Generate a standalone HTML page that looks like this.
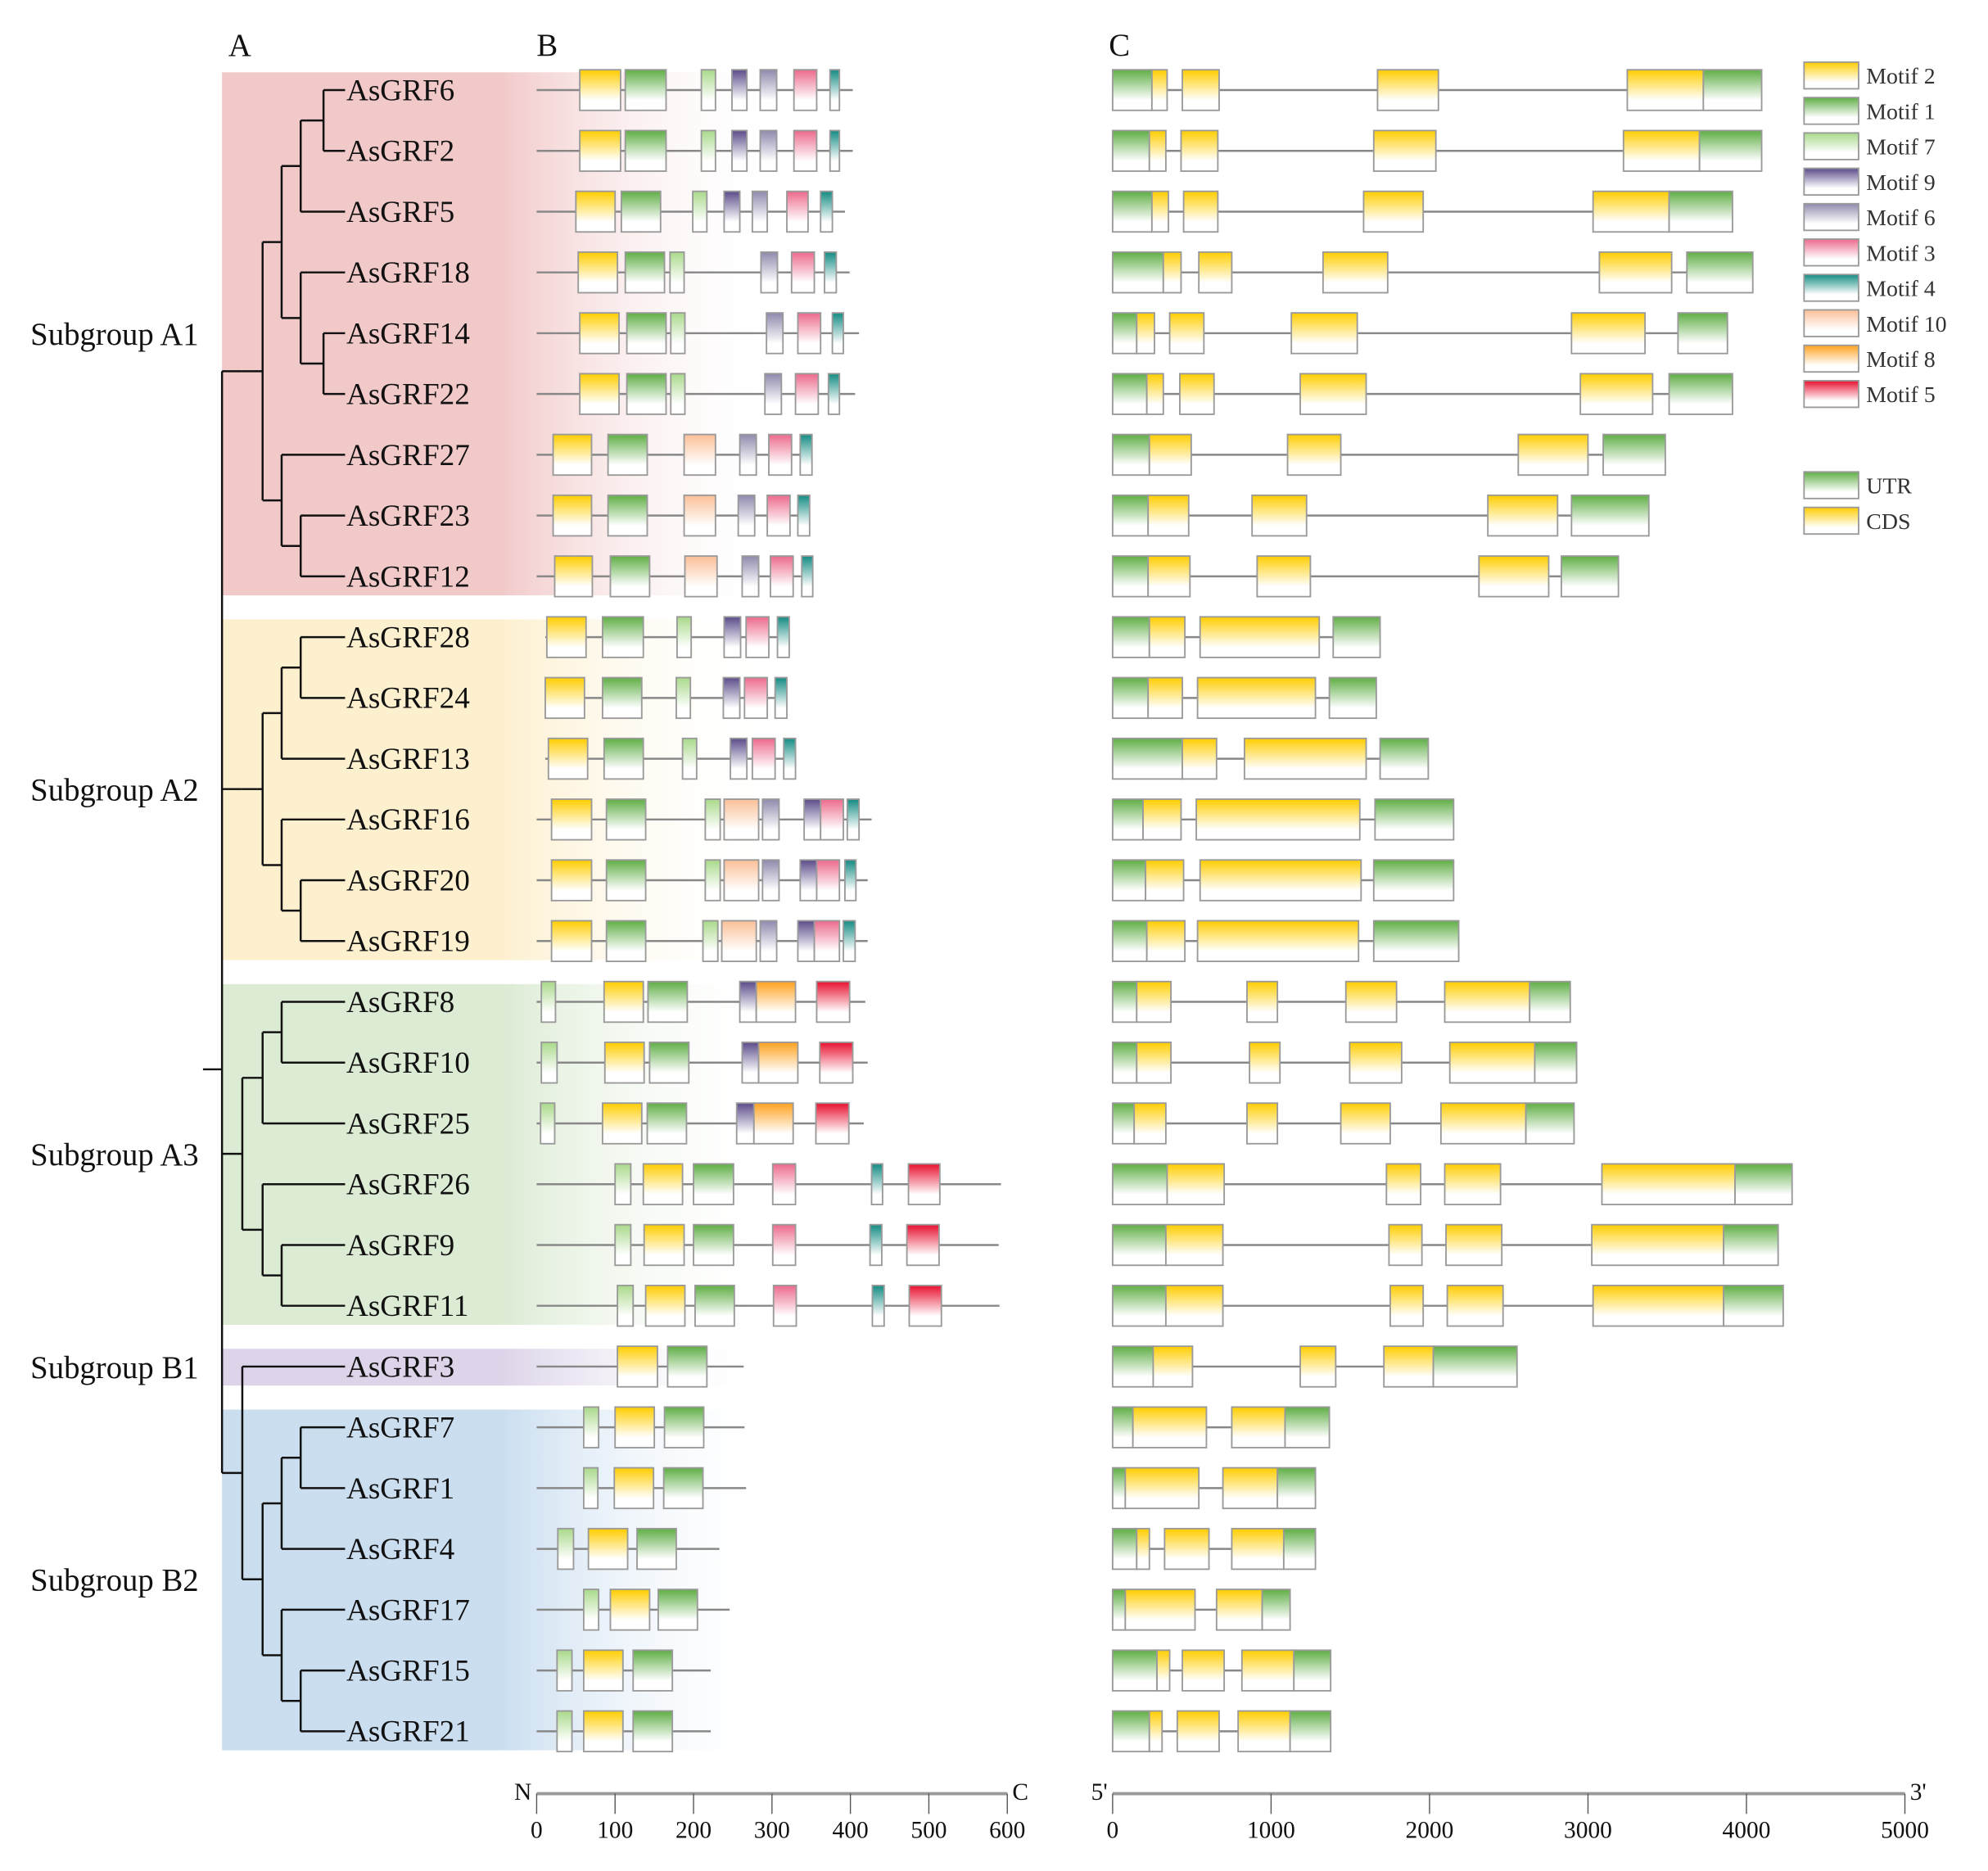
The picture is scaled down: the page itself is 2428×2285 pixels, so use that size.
<!DOCTYPE html>
<html><head><meta charset="utf-8"><style>
html,body{margin:0;padding:0;background:#fff;}
svg{display:block;font-family:"Liberation Serif",serif;}
</style></head><body>
<svg id="fig" width="2428" height="2285" viewBox="0 0 1567 1475" preserveAspectRatio="none" xmlns="http://www.w3.org/2000/svg">
<defs>
<linearGradient id="bgA1" x1="0" x2="1" y1="0" y2="0"><stop offset="0" stop-color="#f2c9c9"/><stop offset="0.5" stop-color="#f2c9c9"/><stop offset="1" stop-color="#fff" stop-opacity="0"/></linearGradient>
<linearGradient id="bgA2" x1="0" x2="1" y1="0" y2="0"><stop offset="0" stop-color="#fdf0cf"/><stop offset="0.5" stop-color="#fdf0cf"/><stop offset="1" stop-color="#fff" stop-opacity="0"/></linearGradient>
<linearGradient id="bgA3" x1="0" x2="1" y1="0" y2="0"><stop offset="0" stop-color="#dcebd4"/><stop offset="0.5" stop-color="#dcebd4"/><stop offset="1" stop-color="#fff" stop-opacity="0"/></linearGradient>
<linearGradient id="bgB1" x1="0" x2="1" y1="0" y2="0"><stop offset="0" stop-color="#ddd4e9"/><stop offset="0.5" stop-color="#ddd4e9"/><stop offset="1" stop-color="#fff" stop-opacity="0"/></linearGradient>
<linearGradient id="bgB2" x1="0" x2="1" y1="0" y2="0"><stop offset="0" stop-color="#cadef0"/><stop offset="0.5" stop-color="#cadef0"/><stop offset="1" stop-color="#fff" stop-opacity="0"/></linearGradient>
</defs>
<g id="bg"></g><g id="tree"></g><g id="motifs"></g><g id="genes"></g><g id="legend"></g><g id="axes"></g>
</svg>
<script>
const NS="http://www.w3.org/2000/svg";
// ---- data ----
const genes=["AsGRF6","AsGRF2","AsGRF5","AsGRF18","AsGRF14","AsGRF22","AsGRF27","AsGRF23","AsGRF12","AsGRF28","AsGRF24","AsGRF13","AsGRF16","AsGRF20","AsGRF19","AsGRF8","AsGRF10","AsGRF25","AsGRF26","AsGRF9","AsGRF11","AsGRF3","AsGRF7","AsGRF1","AsGRF4","AsGRF17","AsGRF15","AsGRF21"];
const proteinStart=[0,0,0,0,0,0,0,0,0,11,11,11,0,0,0,0,0,0,0,0,0,0,0,0,0,0,0,0];
const proteinLength=[403,403,393,399,411,406,351,348,352,322,319,331,427,422,422,419,422,417,592,589,590,264,265,267,233,246,222,222];
// motif hits per protein: [motifNumber, start, end]
const motifHits=[
[[2,55,107],[1,113,165],[7,210,228],[9,249,268],[6,285,306],[3,328,357],[4,374,386]],
[[2,55,107],[1,113,165],[7,210,228],[9,249,268],[6,285,306],[3,328,357],[4,374,386]],
[[2,50,100],[1,108,158],[7,199,217],[9,239,259],[6,275,294],[3,319,346],[4,362,377]],
[[2,53,103],[1,113,163],[7,170,188],[6,286,307],[3,325,354],[4,367,382]],
[[2,55,105],[1,115,165],[7,171,189],[6,293,314],[3,333,362],[4,377,391]],
[[2,55,105],[1,115,165],[7,171,189],[6,291,312],[3,330,359],[4,372,386]],
[[2,21,70],[1,91,141],[10,188,228],[6,259,280],[3,296,325],[4,336,351]],
[[2,21,70],[1,91,141],[10,188,228],[6,257,278],[3,294,323],[4,333,348]],
[[2,23,71],[1,94,144],[10,189,230],[6,262,283],[3,298,327],[4,338,352]],
[[2,13,63],[1,84,136],[7,179,197],[9,239,260],[3,267,296],[4,307,322]],
[[2,11,61],[1,84,134],[7,178,196],[9,238,259],[3,265,294],[4,304,319]],
[[2,15,65],[1,86,136],[7,186,204],[9,247,268],[3,275,304],[4,315,330]],
[[2,19,70],[1,89,139],[7,215,234],[10,239,283],[6,288,309],[9,341,362],[3,362,391],[4,396,411]],
[[2,19,70],[1,89,139],[7,215,234],[10,239,283],[6,288,309],[9,336,357],[3,357,386],[4,393,407]],
[[2,19,70],[1,89,139],[7,212,231],[10,236,280],[6,285,306],[9,333,354],[3,354,386],[4,391,406]],
[[7,6,24],[2,86,136],[1,142,192],[9,259,280],[8,280,330],[5,357,399]],
[[7,6,26],[2,87,137],[1,144,194],[9,262,283],[8,283,333],[5,361,403]],
[[7,5,23],[2,84,134],[1,141,191],[9,255,277],[8,277,327],[5,356,398]],
[[7,100,120],[2,136,186],[1,200,251],[3,301,330],[4,427,441],[5,474,514]],
[[7,100,120],[2,137,188],[1,200,251],[3,301,330],[4,425,440],[5,472,513]],
[[7,103,123],[2,139,189],[1,202,252],[3,302,331],[4,428,443],[5,475,516]],
[[2,103,154],[1,167,217]],
[[7,60,79],[2,100,150],[1,163,213]],
[[7,60,78],[2,99,149],[1,162,212]],
[[7,27,47],[2,66,116],[1,128,178]],
[[7,60,79],[2,94,144],[1,155,205]],
[[7,26,45],[2,60,110],[1,123,173]],
[[7,26,45],[2,60,110],[1,123,173]]
];
// gene structure segments: [type, start bp, end bp]  U=UTR, C=CDS
const geneSegs=[
[["U",0,248],["C",248,344],["C",440,672],["C",1672,2056],["C",3248,3728],["U",3728,4096]],
[["U",0,232],["C",232,336],["C",432,664],["C",1648,2040],["C",3224,3704],["U",3704,4096]],
[["U",0,248],["C",248,352],["C",448,664],["C",1584,1960],["C",3032,3512],["U",3512,3912]],
[["U",0,320],["C",320,432],["C",544,752],["C",1328,1736],["C",3072,3528],["U",3624,4040]],
[["U",0,152],["C",152,264],["C",360,576],["C",1128,1544],["C",2896,3360],["U",3568,3880]],
[["U",0,216],["C",216,320],["C",424,640],["C",1184,1600],["C",2952,3408],["U",3512,3912]],
[["U",0,232],["C",232,496],["C",1104,1440],["C",2560,3000],["U",3096,3488]],
[["U",0,224],["C",224,480],["C",880,1224],["C",2368,2808],["U",2896,3384]],
[["U",0,224],["C",224,488],["C",912,1248],["C",2312,2752],["U",2832,3192]],
[["U",0,232],["C",232,456],["C",552,1304],["U",1392,1688]],
[["U",0,224],["C",224,440],["C",536,1280],["U",1368,1664]],
[["U",0,440],["C",440,656],["C",832,1600],["U",1688,1992]],
[["U",0,192],["C",192,432],["C",528,1560],["U",1656,2152]],
[["U",0,208],["C",208,448],["C",552,1568],["U",1648,2152]],
[["U",0,216],["C",216,456],["C",536,1552],["U",1648,2184]],
[["U",0,152],["C",152,368],["C",848,1040],["C",1472,1792],["C",2096,2632],["U",2632,2888]],
[["U",0,152],["C",152,368],["C",864,1056],["C",1496,1824],["C",2128,2664],["U",2664,2928]],
[["U",0,136],["C",136,336],["C",848,1040],["C",1440,1752],["C",2072,2608],["U",2608,2912]],
[["U",0,344],["C",344,704],["C",1728,1944],["C",2096,2448],["C",3088,3928],["U",3928,4288]],
[["U",0,336],["C",336,696],["C",1744,1952],["C",2104,2456],["C",3024,3856],["U",3856,4200]],
[["U",0,336],["C",336,696],["C",1752,1960],["C",2112,2464],["C",3032,3856],["U",3856,4232]],
[["U",0,256],["C",256,504],["C",1184,1408],["C",1712,2024],["U",2024,2552]],
[["U",0,128],["C",128,592],["C",752,1088],["U",1088,1368]],
[["U",0,80],["C",80,544],["C",696,1040],["U",1040,1280]],
[["U",0,152],["C",152,232],["C",328,608],["C",752,1080],["U",1080,1280]],
[["U",0,80],["C",80,520],["C",656,944],["U",944,1120]],
[["U",0,280],["C",280,360],["C",440,704],["C",816,1144],["U",1144,1376]],
[["U",0,232],["C",232,312],["C",408,672],["C",792,1120],["U",1120,1376]]
];
const subgroups=["Subgroup A1","Subgroup A2","Subgroup A3","Subgroup B1","Subgroup B2"];
const subgroupFirst=[0,9,15,21,22];
const subgroupLast=[8,14,20,21,27];
const motifOrder=[2,1,7,9,6,3,4,10,8,5];
const proteinTicks=[0,100,200,300,400,500,600];
const geneTicks=[0,1000,2000,3000,4000,5000];
// tree topology (leaf indices; node level l -> column)
const tree={l:0,c:[
 {l:1,c:[{l:2,c:[{l:3,c:[{l:4,c:[{l:5,c:[0,1]},2]},{l:4,c:[3,{l:5,c:[4,5]}]}]},{l:3,c:[6,{l:4,c:[7,8]}]}]}]},
 {l:1,c:[{l:2,c:[{l:3,c:[{l:4,c:[9,10]},11]},{l:3,c:[12,{l:4,c:[13,14]}]}]}]},
 {l:1,c:[{l:2,c:[{l:3,c:[15,16]},17]},{l:2,c:[18,{l:3,c:[19,20]}]}]},
 {l:1,c:[21,{l:2,c:[{l:3,c:[{l:4,c:[22,23]},24]},{l:3,c:[25,{l:4,c:[26,27]}]}]}]}
]};
// ---- scales ----
const rowY=i=>71+i*47.92;
const px=v=>423+v*0.6183;
const gx=v=>877+v*0.1249;
const levelX=[175,191,207,222,237,255];
const colors={1:"#5fae45",2:"#ffcd00",3:"#ec6a8c",4:"#138b82",5:"#e8102f",6:"#8f8aad",7:"#a9d98a",8:"#ffa21f",9:"#5b4b8a",10:"#fbbf96",U:"#5fae45",C:"#ffcd00"};
const defs=document.querySelector("defs");
function grad(key){
 const id="g"+key;
 if(document.getElementById(id))return "url(#"+id+")";
 const g=document.createElementNS(NS,"linearGradient");g.setAttribute("id",id);
 g.setAttribute("x1","0");g.setAttribute("x2","0");g.setAttribute("y1","0");g.setAttribute("y2","1");
 [[0,colors[key]],[0.75,"#ffffff"]].forEach(s=>{const st=document.createElementNS(NS,"stop");st.setAttribute("offset",s[0]);st.setAttribute("stop-color",s[1]);g.appendChild(st);});
 defs.appendChild(g);return "url(#"+id+")";
}
function mk(tag,parent,attrs){const e=document.createElementNS(NS,tag);for(const k in attrs)e.setAttribute(k,attrs[k]);parent.appendChild(e);return e;}
// backgrounds + subgroup labels
const bgG=document.getElementById("bg");
const bgIds=["bgA1","bgA2","bgA3","bgB1","bgB2"];
subgroups.forEach((s,k)=>{
 const y0=rowY(subgroupFirst[k])-14, y1=rowY(subgroupLast[k])+15;
 const r=mk("rect",bgG,{x:175,y:y0,width:440,height:y1-y0,fill:"url(#"+bgIds[k]+")"});
 
 
 const t=mk("text",bgG,{x:24,y:(rowY(subgroupFirst[k])+rowY(subgroupLast[k]))/2+9,"font-size":25,fill:"#111"});
 t.textContent=s;
 
 
});
// panel letters
[["A",180],["B",423],["C",874]].forEach(p=>{const t=mk("text",bgG,{x:p[1],y:44,"font-size":25,fill:"#111"});t.textContent=p[0];
 
 });
// tree
const tr=document.getElementById("tree");
function line(x1,y1,x2,y2,name){const l=mk("line",tr,{x1,y1,x2,y2,stroke:"#111","stroke-width":1.6});
 
 }
function draw(n){
 if(typeof n==="number")return {x:272,y:rowY(n)};
 const x=levelX[n.l];const ch=n.c.map(draw);
 const ys=ch.map(c=>c.y);
 if(ys.length>1)line(x,Math.min(...ys),x,Math.max(...ys),"tree-vertical");
 ch.forEach(c=>line(x,c.y,c.x,c.y,"tree-branch"));
 return {x,y:(Math.min(...ys)+Math.max(...ys))/2};
}
draw(tree);
line(160,843,175,843,"tree-root-stub");
genes.forEach((g,i)=>{const t=mk("text",tr,{x:273,y:rowY(i)+8,"font-size":24,fill:"#111"});t.textContent=g;
 
 });
// motifs
const mg=document.getElementById("motifs");
const H=32;
genes.forEach((g,i)=>{
 const y=rowY(i);
 const l=mk("line",mg,{x1:px(proteinStart[i]),x2:px(proteinLength[i]),y1:y,y2:y,stroke:"#888","stroke-width":1.6});
 
 
 motifHits[i].forEach(h=>{
  const r=mk("rect",mg,{x:px(h[1]),y:y-16,width:px(h[2])-px(h[1]),height:H,fill:grad(h[0]),stroke:"#9a9a9a","stroke-width":1.2});
  
  
 });
});
// gene structures
const gg=document.getElementById("genes");
genes.forEach((g,i)=>{
 const y=rowY(i);const segs=geneSegs[i];
 const l=mk("line",gg,{x1:gx(0),x2:gx(segs[segs.length-1][2]),y1:y,y2:y,stroke:"#888","stroke-width":1.6});
 
 
 segs.forEach(s=>{
  const r=mk("rect",gg,{x:gx(s[1]),y:y-16,width:gx(s[2])-gx(s[1]),height:H,fill:grad(s[0]),stroke:"#9a9a9a","stroke-width":1.2});
  
  
 });
});
// legend
const lg=document.getElementById("legend");
const legendItems=motifOrder.map(m=>[m,"Motif "+m]).concat([["U","UTR"],["C","CDS"]]);
legendItems.forEach((it,k)=>{
 const y=k<10?49+k*27.9:372+(k-10)*28;
 const r=mk("rect",lg,{x:1422,y:y,width:43,height:21,fill:grad(it[0]),stroke:"#9a9a9a","stroke-width":1.2});
 
 
 const t=mk("text",lg,{x:1471,y:y+17,"font-size":18,fill:"#333"});t.textContent=it[1];
 
 
});
// axes
const ax=document.getElementById("axes");
function axis(scale,ticks,max,left,right,name){
 const y=1414;
 const a=mk("line",ax,{x1:scale(0),x2:scale(max),y1:y,y2:y,stroke:"#999","stroke-width":2.5});
 
 
 ticks.forEach(t=>{
  const tk=mk("line",ax,{x1:scale(t),x2:scale(t),y1:y,y2:y+16,stroke:"#555","stroke-width":0.9});
  
  
  const tx=mk("text",ax,{x:scale(t),y:y+35,"font-size":19,"text-anchor":"middle",fill:"#111"});tx.textContent=t;
  
  
 });
 const l=mk("text",ax,{x:scale(0)-4,y:y+5,"font-size":19,"text-anchor":"end",fill:"#111"});l.textContent=left;
 
 
 const r=mk("text",ax,{x:scale(max)+4,y:y+5,"font-size":19,fill:"#111"});r.textContent=right;
 
 
}
axis(px,proteinTicks,600,"N","C","protein");
axis(gx,geneTicks,5000,"5'","3'","gene");
</script>
</body></html>
